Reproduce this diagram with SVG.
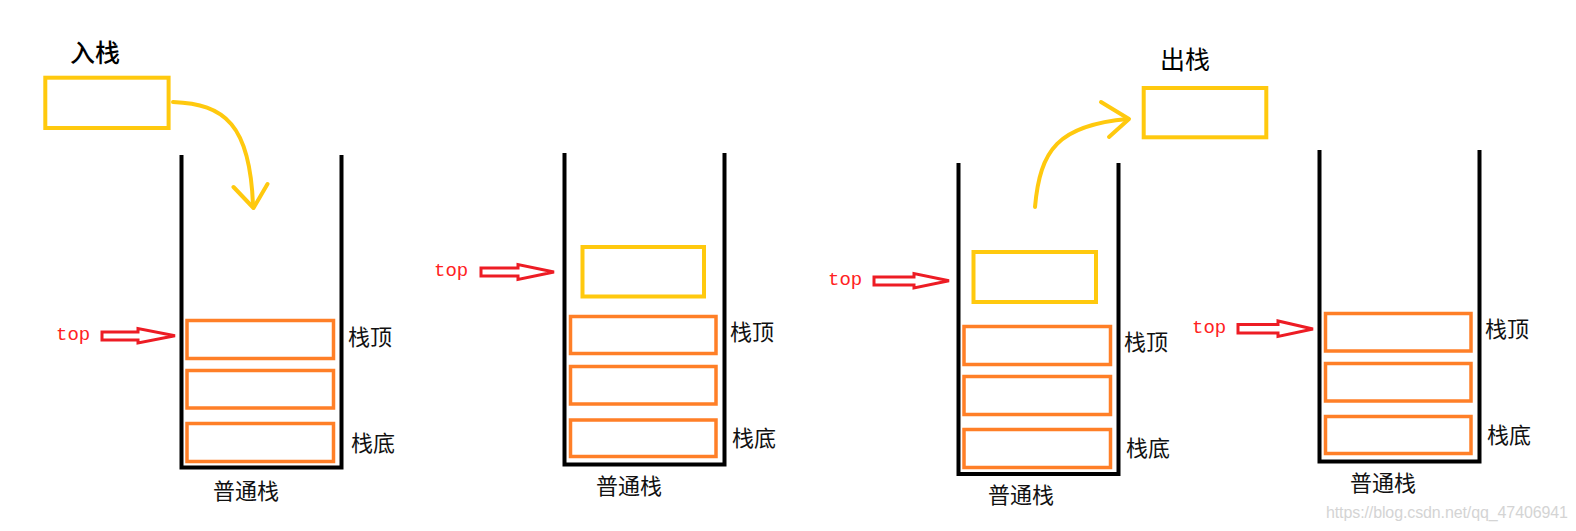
<svg xmlns="http://www.w3.org/2000/svg" width="1576" height="531" viewBox="0 0 1576 531">
<style>
.wall{fill:none;stroke:#000;stroke-width:4}
.cell{fill:none;stroke:#ff7f27;stroke-width:3.5}
.ybox{fill:none;stroke:#ffc90e;stroke-width:4}
.curve{fill:none;stroke:#ffc90e;stroke-width:4;stroke-linecap:round;stroke-linejoin:round}
.rarrow{fill:#fff;stroke:#ed1c24;stroke-width:3;stroke-linejoin:miter}
.lbl{font-family:"Noto Sans CJK SC","Liberation Serif",serif;font-size:22px;fill:#111}
.title{font-family:"Noto Sans CJK SC","Liberation Sans",sans-serif;font-size:25px;fill:#000}
.top{font-family:"Liberation Mono",monospace;font-size:19px;fill:#f22}
.wm{font-family:"Liberation Sans",Arial,sans-serif;font-size:16px;fill:#d4d4d4}
</style>
<rect width="1576" height="531" fill="#fff"/>

<g id="push-item">
<text class="title" x="70" y="62" font-weight="500">入栈</text>
<rect class="ybox" x="45.3" y="77.7" width="123.3" height="50.3"/>
</g>

<g id="stack1">
<path class="wall" d="M181.5,155 V467.5 H341.5 V155"/>
<rect class="cell" x="187" y="320.5" width="146.5" height="38"/>
<rect class="cell" x="187" y="370.5" width="146.5" height="37.5"/>
<rect class="cell" x="187" y="423.5" width="146.5" height="38"/>
<text class="lbl" x="348" y="345">栈顶</text>
<text class="lbl" x="351" y="451">栈底</text>
<text class="lbl" x="213" y="499">普通栈</text>
<text class="top" x="56" y="340">top</text>
</g>

<g id="stack2">
<path class="wall" d="M564.5,153 V464.5 H724.5 V153"/>
<rect class="ybox" x="582.5" y="247" width="121.5" height="49.5"/>
<rect class="cell" x="570.5" y="316.5" width="145.5" height="37"/>
<rect class="cell" x="570.5" y="366.5" width="145.5" height="37.5"/>
<rect class="cell" x="570.5" y="420" width="145.5" height="36.5"/>
<text class="lbl" x="730" y="340">栈顶</text>
<text class="lbl" x="732" y="446">栈底</text>
<text class="lbl" x="596" y="494">普通栈</text>
<text class="top" x="434" y="276">top</text>
</g>

<g id="pop-item">
<text class="title" x="1160" y="69">出栈</text>
<rect class="ybox" x="1143.7" y="88" width="122.6" height="49.3"/>
</g>

<g id="stack3">
<path class="wall" d="M958.5,163 V474 H1118.5 V163"/>
<rect class="ybox" x="973.5" y="252" width="122.5" height="50"/>
<rect class="cell" x="964" y="326.5" width="146.5" height="38"/>
<rect class="cell" x="964" y="376.5" width="146.5" height="38"/>
<rect class="cell" x="964" y="429.5" width="146.5" height="38"/>
<text class="lbl" x="1124" y="350">栈顶</text>
<text class="lbl" x="1126" y="456">栈底</text>
<text class="lbl" x="988" y="503">普通栈</text>
<text class="top" x="828" y="285">top</text>
</g>

<g id="stack4">
<path class="wall" d="M1319.5,150 V461.5 H1479.5 V150"/>
<rect class="cell" x="1325.5" y="313.5" width="145.5" height="37.5"/>
<rect class="cell" x="1325.5" y="363.5" width="145.5" height="37.5"/>
<rect class="cell" x="1325.5" y="416.5" width="145.5" height="37"/>
<text class="lbl" x="1485" y="337">栈顶</text>
<text class="lbl" x="1487" y="443">栈底</text>
<text class="lbl" x="1350" y="491">普通栈</text>
<text class="top" x="1192" y="333">top</text>
</g>

<g id="connectors">
<path class="curve" d="M173,102 C225,104 250,125 253,205"/>
<path class="curve" d="M233.5,187 L253.5,208 L267.5,184"/>
<path class="curve" d="M1035,207 C1040,150 1058,125 1128,119"/>
<path class="curve" d="M1101,102 L1129,119 L1109,137"/>
<polygon class="rarrow" points="102,332 138,332 138,328.5 175,335.8 138,343 138,340 102,340"/>
<polygon class="rarrow" points="481,268 518,268 518,264.5 554,272 518,279.5 518,276 481,276"/>
<polygon class="rarrow" points="874,277 914,277 914,273.5 949,280.8 914,288 914,285 874,285"/>
<polygon class="rarrow" points="1238,324.5 1278,324.5 1278,321 1313,329 1278,336.5 1278,333 1238,333"/>
</g>

<text class="wm" x="1326" y="518" textLength="242">https://blog.csdn.net/qq_47406941</text>
</svg>
